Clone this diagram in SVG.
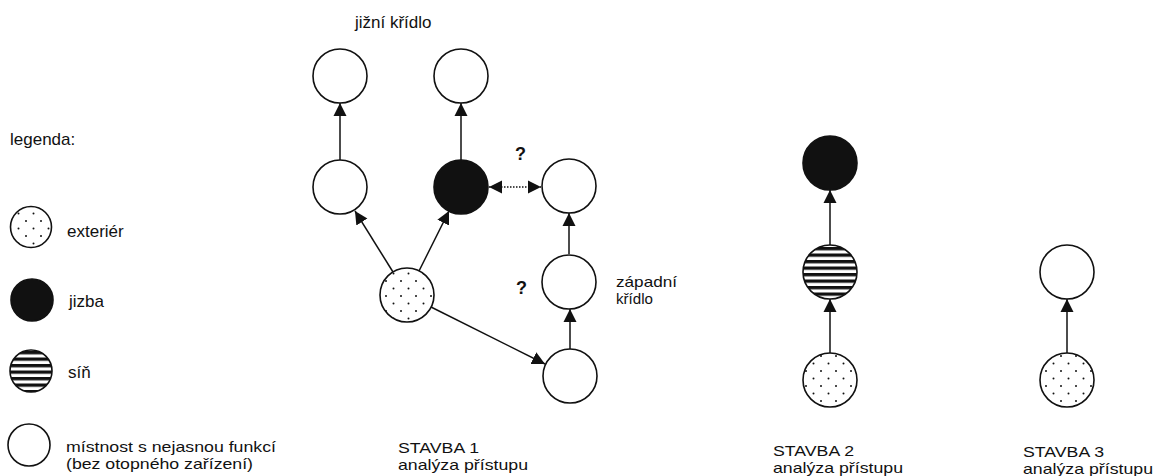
<svg xmlns="http://www.w3.org/2000/svg" width="1157" height="476" viewBox="0 0 1157 476">
  <style>
    .t { font-family: "Liberation Sans", Arial, sans-serif; font-size: 17px; fill: #111; }
    .t2 { font-family: "Liberation Sans", Arial, sans-serif; font-size: 15px; fill: #111; }
    .q { font-family: "Liberation Sans", Arial, sans-serif; font-size: 18px; font-weight: bold; fill: #111; }
    .n { stroke: #111; stroke-width: 1.6; }
    .empty { fill: #fff; }
    .jizba { fill: #111; }
    .ext { fill: url(#dots); }
    .sin { fill: url(#stripes); }
    .c { stroke: #111; stroke-width: 1.5; fill: none; marker-end: url(#arr); }
    .d { stroke: #111; stroke-width: 1.3; stroke-dasharray: 1.5 1.5; fill: none; marker-end: url(#arr); marker-start: url(#arr); }
  </style>
  <defs>
    <pattern id="dots" patternUnits="userSpaceOnUse" width="15" height="15">
      <rect width="15" height="15" fill="#fff"/>
      <circle cx="3.5" cy="3.5" r="1" fill="#111"/>
      <circle cx="11" cy="11" r="1" fill="#111"/>
    </pattern>
    <pattern id="stripes" patternUnits="userSpaceOnUse" width="10" height="6.5">
      <rect width="10" height="6.5" fill="#fff"/>
      <rect width="10" height="3.3" fill="#111"/>
    </pattern>
    <marker id="arr" markerUnits="userSpaceOnUse" markerWidth="14" markerHeight="14" viewBox="0 0 14 14" refX="13" refY="7" orient="auto-start-reverse">
      <path d="M0,0.5 L13,7 L0,13.5 z" fill="#111"/>
    </marker>
  </defs>
  <rect width="1157" height="476" fill="#fff"/>

  <!-- legend -->
  <g id="legend">
    <text class="t" x="10" y="145">legenda:</text>
    <circle class="n ext" cx="31" cy="227" r="20.5"/>
    <text class="t" x="67" y="237">exteriér</text>
    <circle class="n jizba" cx="32" cy="300" r="21"/>
    <text class="t" x="69" y="307">jizba</text>
    <circle class="n sin" cx="31" cy="371" r="21"/>
    <text class="t" x="68" y="378">síň</text>
    <circle class="n empty" cx="29" cy="445" r="21"/>
    <text class="t2" x="66" y="452" textLength="210" lengthAdjust="spacingAndGlyphs">místnost s nejasnou funkcí</text>
    <text class="t2" x="66" y="469" textLength="187" lengthAdjust="spacingAndGlyphs">(bez otopného zařízení)</text>
  </g>

  <!-- connectors -->
  <g id="connectors">
    <line class="c" x1="340" y1="160" x2="340" y2="103"/>
    <line class="c" x1="461" y1="160" x2="461" y2="103"/>
    <line class="c" x1="393" y1="272" x2="355" y2="211"/>
    <line class="c" x1="419" y1="271" x2="449" y2="211"/>
    <line class="c" x1="431" y1="307" x2="545" y2="364"/>
    <line class="c" x1="570" y1="349" x2="570" y2="309"/>
    <line class="c" x1="569" y1="254" x2="569" y2="213"/>
    <line class="d" x1="489" y1="187" x2="541" y2="187"/>
    <line class="c" x1="830" y1="353" x2="830" y2="299"/>
    <line class="c" x1="830" y1="245" x2="830" y2="190"/>
    <line class="c" x1="1067" y1="353" x2="1067" y2="299"/>
  </g>

  <!-- STAVBA 1 -->
  <g id="s1-top-left"><circle class="n empty" cx="340" cy="76" r="27"/></g>
  <g id="s1-top-mid"><circle class="n empty" cx="461" cy="76" r="27"/></g>
  <g id="s1-mid-left"><circle class="n empty" cx="340" cy="187" r="27"/></g>
  <g id="s1-jizba"><circle class="n jizba" cx="461" cy="187" r="27"/></g>
  <g id="s1-right"><circle class="n empty" cx="569" cy="186" r="27"/></g>
  <g id="s1-ext"><circle class="n ext" cx="407" cy="295" r="27"/></g>
  <g id="s1-west-mid"><circle class="n empty" cx="569" cy="282" r="27"/></g>
  <g id="s1-west-bottom"><circle class="n empty" cx="570" cy="376" r="27"/></g>
  <g id="s1-labels">
    <text class="t" x="355" y="28">jižní křídlo</text>
    <text class="q" x="515" y="160">?</text>
    <text class="q" x="516" y="294">?</text>
    <text class="t2" x="616" y="287" textLength="61" lengthAdjust="spacingAndGlyphs">západní</text>
    <text class="t2" x="616" y="304" textLength="37" lengthAdjust="spacingAndGlyphs">křídlo</text>
    <text class="t2" x="398" y="453" textLength="81" lengthAdjust="spacingAndGlyphs">STAVBA 1</text>
    <text class="t2" x="398" y="470" textLength="130" lengthAdjust="spacingAndGlyphs">analýza přístupu</text>
  </g>

  <!-- STAVBA 2 -->
  <g id="s2-jizba"><circle class="n jizba" cx="830" cy="163" r="27"/></g>
  <g id="s2-sin"><circle class="n sin" cx="830" cy="272" r="27"/></g>
  <g id="s2-ext"><circle class="n ext" cx="830" cy="380" r="27"/></g>
  <g id="s2-labels">
    <text class="t2" x="773" y="456" textLength="81" lengthAdjust="spacingAndGlyphs">STAVBA 2</text>
    <text class="t2" x="773" y="473" textLength="130" lengthAdjust="spacingAndGlyphs">analýza přístupu</text>
  </g>

  <!-- STAVBA 3 -->
  <g id="s3-room"><circle class="n empty" cx="1067" cy="272" r="27"/></g>
  <g id="s3-ext"><circle class="n ext" cx="1067" cy="380" r="27"/></g>
  <g id="s3-labels">
    <text class="t2" x="1023" y="457" textLength="81" lengthAdjust="spacingAndGlyphs">STAVBA 3</text>
    <text class="t2" x="1023" y="474" textLength="130" lengthAdjust="spacingAndGlyphs">analýza přístupu</text>
  </g>
</svg>
